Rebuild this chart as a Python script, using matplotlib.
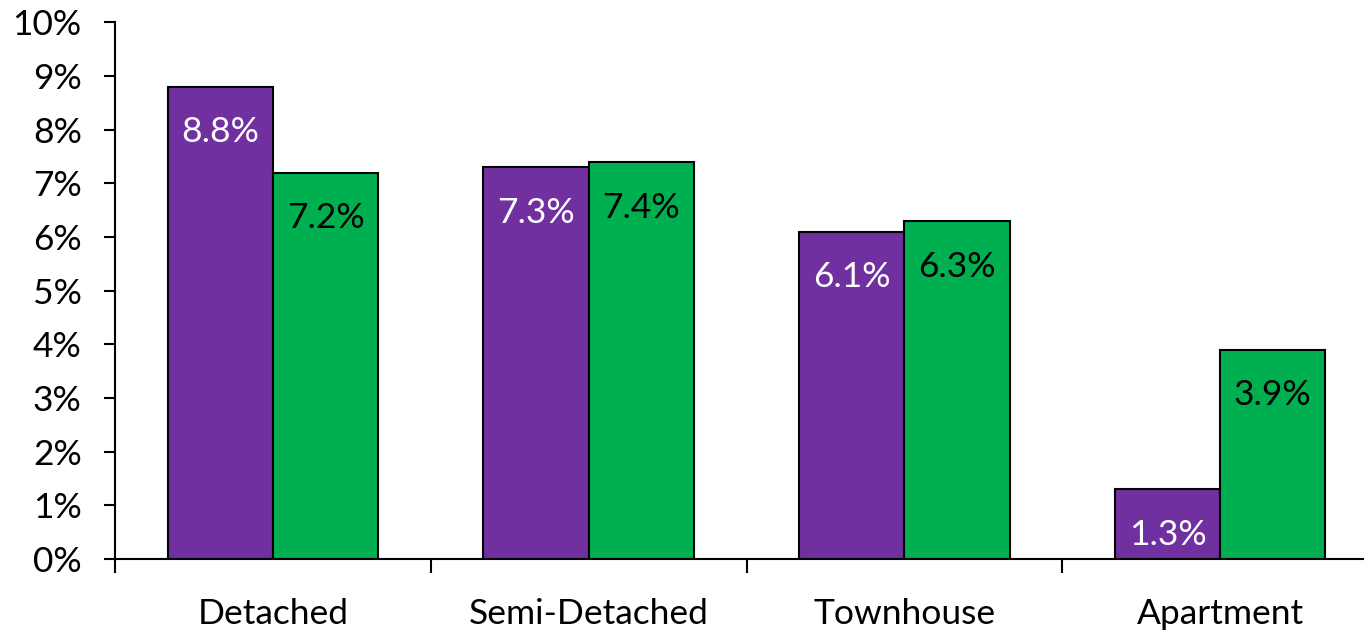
import numpy as np
import matplotlib.pyplot as plt
from matplotlib.ticker import FuncFormatter

# DATA (percent)
categories = ["Detached", "Semi-Detached", "Townhouse", "Apartment"]
series_a = [8.8, 7.3, 6.1, 1.3]
series_b = [7.2, 7.4, 6.3, 3.9]

PURPLE = "#7030A0"
GREEN = "#00B050"

plt.rcParams['font.family'] = ['Lato', 'DejaVu Sans']

fig = plt.figure(figsize=(13.64, 6.3), dpi=100)
ax = fig.add_axes([0.0843, 0.1127, 0.926, 0.852])

x = np.arange(len(categories))
w = 0.333

bars_a = ax.bar(x - w / 2, series_a, w, color=PURPLE, edgecolor="black", linewidth=1.5)
bars_b = ax.bar(x + w / 2, series_b, w, color=GREEN, edgecolor="black", linewidth=1.5)

# value labels inside the top of each bar
for bar, v in zip(bars_a, series_a):
    ax.annotate(f"{v:.1f}%", (bar.get_x() + bar.get_width() / 2, v),
                xytext=(0, -33), textcoords="offset points",
                ha="center", va="center", fontsize=25.5, color="white")
for bar, v in zip(bars_b, series_b):
    ax.annotate(f"{v:.1f}%", (bar.get_x() + bar.get_width() / 2, v),
                xytext=(0, -33), textcoords="offset points",
                ha="center", va="center", fontsize=25.5, color="black")

# AXES
ax.set_xlim(-0.5, len(categories) - 0.5)
ax.set_ylim(0, 10)
ax.set_yticks(np.arange(0, 11, 1))
ax.yaxis.set_major_formatter(FuncFormatter(lambda v, p: f"{v:.0f}%"))
ax.tick_params(axis="y", length=8, width=1.5, pad=16, labelsize=25.5)

ax.set_xticks(np.arange(len(categories)) - 0.5)
ax.set_xticklabels([])
ax.set_xticks(x, minor=True)
ax.set_xticklabels(categories, minor=True)
ax.tick_params(axis="x", which="major", length=10, width=1.5)
ax.tick_params(axis="x", which="minor", length=0, pad=28, labelsize=25.5)

for side in ["top", "right"]:
    ax.spines[side].set_visible(False)
for side in ["left", "bottom"]:
    ax.spines[side].set_linewidth(1.5)

plt.savefig("out.png", dpi=100)
